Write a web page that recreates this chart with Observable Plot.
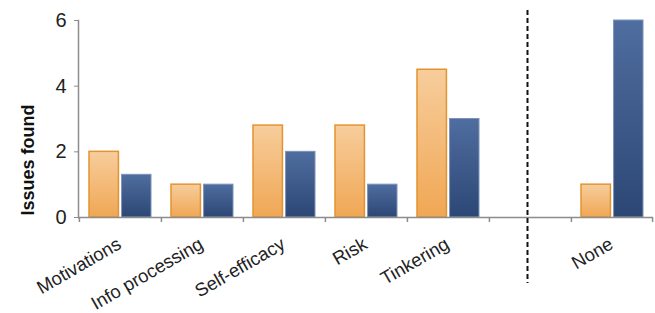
<!DOCTYPE html>
<html>
<head>
<meta charset="utf-8">
<script src="https://cdn.jsdelivr.net/npm/d3@7"></script>
<script src="https://cdn.jsdelivr.net/npm/@observablehq/plot@0.6"></script>
<style>
  html, body { margin: 0; padding: 0; background: #fff; }
  #chart svg { font-family: "Liberation Sans", Arial, sans-serif; }
</style>
</head>
<body>
<div id="chart"></div>
<script>
const categories = ["Motivations", "Info processing", "Self-efficacy", "Risk", "Tinkering", " ", "None"];
const seriesA = [2, 1, 2.8, 2.8, 4.5, null, 1];
const seriesB = [1.3, 1, 2, 1, 3, null, 6];
const yTicks = [0, 2, 4, 6];

const rowsA = categories.map((c, i) => ({category: c, value: seriesA[i]})).filter(d => d.value != null);
const rowsB = categories.map((c, i) => ({category: c, value: seriesB[i]})).filter(d => d.value != null);

const W = 655, H = 313, mL = 78, mR = 2, mT = 20, mB = 96;
const bw = (W - mL - mR) / categories.length;
const plotH = H - mT - mB;
const axisGray = "#8c8c8c";

const chart = Plot.plot({
  width: W,
  height: H,
  marginLeft: mL,
  marginRight: mR,
  marginTop: mT,
  marginBottom: mB,
  style: {fontFamily: "Liberation Sans, Arial, sans-serif", background: "#fff"},
  x: {domain: categories, padding: 0, paddingInner: 0, paddingOuter: 0},
  y: {domain: [0, 6]},
  marks: [
    Plot.barY(rowsA, {x: "category", y: "value", fill: "url(#gradA)", stroke: "#e39430", strokeWidth: 1.5,
      insetLeft: 10, insetRight: bw / 2 + 1.5}),
    Plot.barY(rowsB, {x: "category", y: "value", fill: "url(#gradB)", stroke: "#7b93b8", strokeWidth: 1,
      insetLeft: bw / 2 + 1.5, insetRight: 10}),
    Plot.ruleY([0], {stroke: axisGray, strokeWidth: 1.5}),
    Plot.frame({anchor: "left", stroke: axisGray, strokeWidth: 1.5}),
    Plot.ruleX(categories, {x: d => d, dx: -bw / 2, stroke: axisGray, strokeWidth: 1.5, insetTop: plotH, insetBottom: -5}),
    Plot.ruleX(categories.slice(-1), {x: d => d, dx: bw / 2 - 1, stroke: axisGray, strokeWidth: 1.5, insetTop: plotH, insetBottom: -5}),
    Plot.ruleX([" "], {x: d => d, dx: -3, stroke: "#111", strokeWidth: 2, strokeDasharray: "5,3", insetTop: -10, insetBottom: -66}),
    Plot.axisY({ticks: yTicks, tickFormat: d3.format("d"), tickSize: 4, tickPadding: 8, fontSize: 20, label: null, stroke: axisGray, color: "#222"}),
    Plot.axisX({tickSize: 0, tickPadding: 25, tickRotate: -30, fontSize: 18.5, label: null, color: "#222", dx: -1}),
    Plot.text(["Issues found"], {frameAnchor: "left", dx: -50, dy: 41, rotate: -90, textAnchor: "middle",
      fontWeight: "bold", fontSize: 18, fill: "#111"})
  ]
});

const defs = `
<defs>
  <linearGradient id="gradA" x1="0" y1="0" x2="0" y2="1">
    <stop offset="0%" stop-color="#f7cd9c"/>
    <stop offset="100%" stop-color="#f0a754"/>
  </linearGradient>
  <linearGradient id="gradB" x1="0" y1="0" x2="0" y2="1">
    <stop offset="0%" stop-color="#4f6d9f"/>
    <stop offset="100%" stop-color="#2c4775"/>
  </linearGradient>
</defs>`;
chart.insertAdjacentHTML("afterbegin", defs);
document.getElementById("chart").appendChild(chart);
</script>
</body>
</html>
